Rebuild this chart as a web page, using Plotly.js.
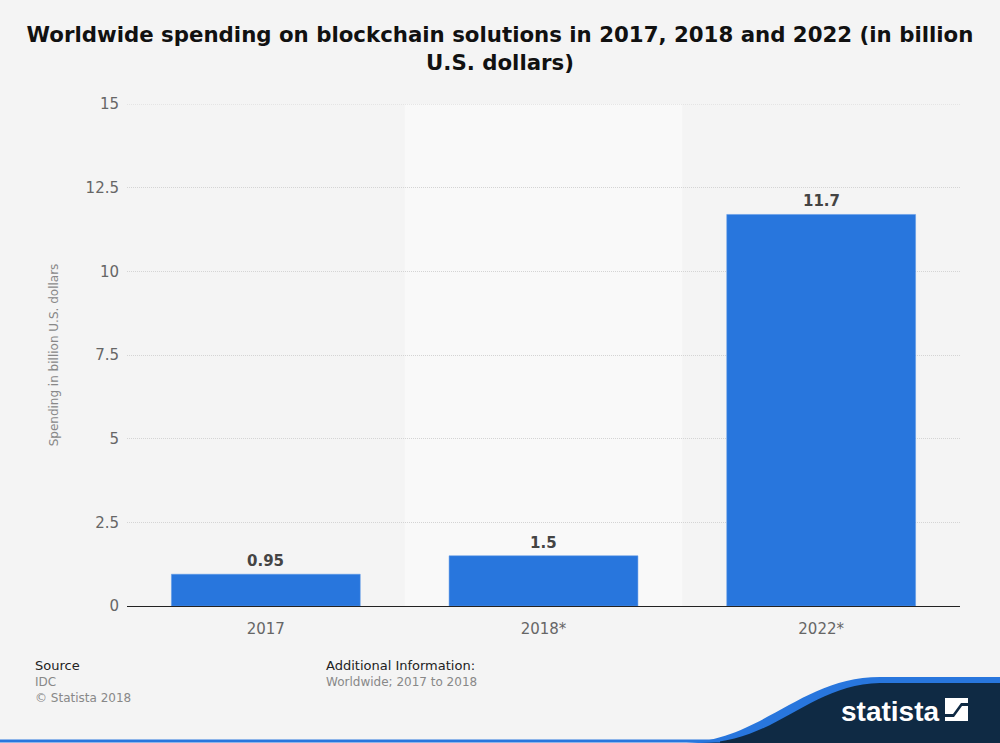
<!DOCTYPE html>
<html><head><meta charset="utf-8">
<script src="https://cdn.plot.ly/plotly-3.0.1.min.js"></script>
<style>body{margin:0;background:#f4f4f4}#c{width:1000px;height:743px}</style>
</head><body><div id="c"></div>
<script>
const categories = ["2017", "2018*", "2022*"];
const spending = [0.95, 1.5, 11.7];
const valueLabels = ["0.95", "1.5", "11.7"];
const yTicks = [0, 2.5, 5, 7.5, 10, 12.5, 15];
const yTickText = ["0", "2.5", "5", "7.5", "10", "12.5", "15"];

const W = 1000, H = 743, L = 127, R = 40, T = 104, B = 137;
const pw = W - L - R, ph = H - T - B;
const px = x => (x - L) / pw;
const py = y => (H - B - y) / ph;
function path(pts) {
  return pts.map(p => {
    if (p[0] === 'Z') return 'Z';
    const cmd = p[0]; const rest = p.slice(1);
    const out = [];
    for (let i = 0; i < rest.length; i += 2) out.push(px(rest[i]).toFixed(5) + ',' + py(rest[i+1]).toFixed(5));
    return cmd + out.join(' ');
  }).join(' ');
}

const trace = {
  type: 'bar', x: categories, y: spending,
  marker: {color: '#2876dd', line: {color: '#5a97e6', width: 0.5}}, width: 0.68,
  hoverinfo: 'none'
};

const shapes = [
  {type: 'rect', xref: 'x', yref: 'paper', x0: 0.5, x1: 1.5, y0: 0, y1: 1, fillcolor: '#f9f9f9', line: {width: 0}, layer: 'below'},
  {type: 'line', xref: 'paper', yref: 'y', x0: 0, x1: 1, y0: yTicks[yTicks.length - 1], y1: yTicks[yTicks.length - 1], line: {color: '#d4d4d4', width: 1, dash: '1px,1px'}},
  {type: 'path', xref: 'paper', yref: 'paper', layer: 'above',
   path: path([['M',680,743],['C',760,743,800,677,880,677],['L',1000,677],['L',1000,743],['Z']]),
   fillcolor: '#2876dd', line: {width: 0}},
  {type: 'path', xref: 'paper', yref: 'paper', layer: 'above',
   path: path([['M',700,743],['C',775,743,810,684,880,683],['L',1000,683],['L',1000,743],['Z']]),
   fillcolor: '#0f2a44', line: {width: 0}},
  {type: 'line', xref: 'paper', yref: 'paper', x0: px(0), x1: px(720), y0: py(741), y1: py(741), line: {color: '#2876dd', width: 3}},
  {type: 'rect', xref: 'paper', yref: 'paper', x0: px(945), x1: px(968), y0: py(698), y1: py(721), fillcolor: '#ffffff', line: {width: 0}},
  {type: 'path', xref: 'paper', yref: 'paper',
   path: path([['M',945,714],['L',953,714],['L',961,703],['L',968,703],['L',968,706],['L',962,706],['L',954,717],['L',945,717],['Z']]),
   fillcolor: '#0f2a44', line: {width: 0}}
];

const annotations = [
  {text: 'Source', x: px(33), y: py(665), xref: 'paper', yref: 'paper', xanchor: 'left', yanchor: 'middle', showarrow: false, font: {family: 'DejaVu Sans', size: 13, color: '#222'}},
  {text: 'IDC', x: px(33), y: py(682), xref: 'paper', yref: 'paper', xanchor: 'left', yanchor: 'middle', showarrow: false, font: {family: 'DejaVu Sans', size: 12, color: '#888'}},
  {text: '© Statista 2018', x: px(33), y: py(698), xref: 'paper', yref: 'paper', xanchor: 'left', yanchor: 'middle', showarrow: false, font: {family: 'DejaVu Sans', size: 12, color: '#888'}},
  {text: 'Additional Information:', x: px(324), y: py(665), xref: 'paper', yref: 'paper', xanchor: 'left', yanchor: 'middle', showarrow: false, font: {family: 'DejaVu Sans', size: 13, color: '#222'}},
  {text: 'Worldwide; 2017 to 2018', x: px(324), y: py(682), xref: 'paper', yref: 'paper', xanchor: 'left', yanchor: 'middle', showarrow: false, font: {family: 'DejaVu Sans', size: 12, color: '#888'}},
  {text: 'statista', x: px(890), y: py(711), xref: 'paper', yref: 'paper', xanchor: 'center', yanchor: 'middle', showarrow: false, font: {family: 'Liberation Sans', size: 28, color: '#ffffff', weight: 'bold'}}
];
categories.forEach((c, i) => annotations.push({
  text: valueLabels[i], x: i, y: spending[i], xref: 'x', yref: 'y', xanchor: 'center', yanchor: 'bottom',
  yshift: 2, showarrow: false, font: {family: 'DejaVu Sans', size: 15, color: '#444', weight: 'bold'}
}));

const layout = {
  width: W, height: H,
  paper_bgcolor: '#f4f4f4', plot_bgcolor: '#f4f4f4',
  margin: {l: L, r: R, t: T, b: B},
  title: {text: 'Worldwide spending on blockchain solutions in 2017, 2018 and 2022 (in billion<br>U.S. dollars)',
    x: 0.5, xref: 'container', xanchor: 'center', y: 1 - 42/H, yref: 'container', yanchor: 'top',
    font: {family: 'DejaVu Sans', size: 21.3, color: '#111', weight: 'bold'}},
  showlegend: false,
  xaxis: {type: 'category', showgrid: false, ticks: 'outside', ticklen: 9, tickcolor: 'rgba(0,0,0,0)',
    tickfont: {family: 'DejaVu Sans', size: 15, color: '#666'},
    showline: true, linecolor: '#222', linewidth: 1, zeroline: false, fixedrange: true},
  yaxis: {range: [0, 15], tickvals: yTicks, ticktext: yTickText, ticks: 'outside', ticklen: 4, tickcolor: 'rgba(0,0,0,0)',
    tickfont: {family: 'DejaVu Sans', size: 15, color: '#666'},
    showgrid: true, gridcolor: '#d4d4d4', griddash: '1px,1px', gridwidth: 1,
    zeroline: false, showline: false,
    title: {text: 'Spending in billion U.S. dollars', standoff: 24, font: {family: 'DejaVu Sans', size: 12, color: '#888'}}},
  shapes: shapes, annotations: annotations
};
Plotly.newPlot('c', [trace], layout, {displayModeBar: false, staticPlot: true});
</script></body></html>
